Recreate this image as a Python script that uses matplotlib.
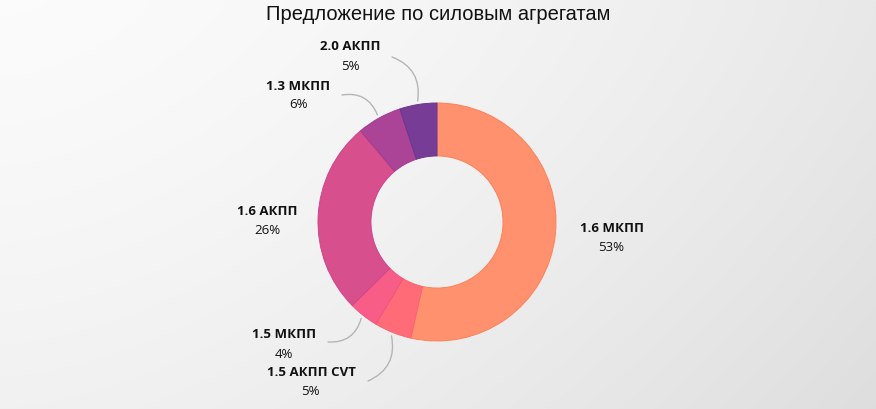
import numpy as np
import matplotlib.pyplot as plt

# data
labels = ["1.6 МКПП", "1.5 АКПП CVT", "1.5 МКПП", "1.6 АКПП", "1.3 МКПП", "2.0 АКПП"]
shares = [53, 5, 4, 26, 6, 5]
colors = ["#ff916e", "#ff6c78", "#f85d88", "#d84f8e", "#ab4496", "#773d96"]
edges = ["#ff8058", "#fb6270", "#f25280", "#d0458a", "#a03d90", "#6a358e"]

# label layout in pixel coords of the picture (name centre, percent centre)
name_px = [(612, 229), (311, 373), (284, 335), (267, 212), (298, 87), (350, 47)]
pct_px = [(611, 248), (310, 392), (284, 355), (267, 231), (299, 104), (350, 66)]
# leader line ends near labels (None = no leader)
lead_px = [None, (368, 382), (328, 343), None, (342, 96), (392, 58)]
lead_rad = [0, 0.4, 0.4, 0, -0.4, -0.4]

W, H = 876, 410
cx, cy, R = 437, 223, 119


def to_data(p):
    return ((p[0] - cx) / R, (cy - p[1]) / R)


fig = plt.figure(figsize=(W / 100, H / 100), dpi=100)

# light grey background, whiter at the top left
bg = fig.add_axes([0, 0, 1, 1])
xx, yy = np.meshgrid(np.linspace(0, 1, W), np.linspace(0, 1, H))
light = 0.985 - 0.075 * xx ** 1.6 - 0.04 * yy ** 1.3
bg.imshow(np.dstack([light] * 3), aspect="auto", extent=(0, 1, 0, 1), origin="upper")
bg.axis("off")

ax = fig.add_axes([0, 0, 1, 1])
ax.patch.set_alpha(0)

wedges, _ = ax.pie(shares, colors=colors, startangle=90, counterclock=False,
                   radius=1, wedgeprops=dict(width=0.445, linewidth=0.7))
for w, e in zip(wedges, edges):
    w.set_edgecolor(e)

ax.set_xlim(-cx / R, (W - cx) / R)
ax.set_ylim((cy - H) / R, cy / R)
ax.set_aspect("equal")
ax.axis("off")

for i, w in enumerate(wedges):
    mid = np.deg2rad((w.theta1 + w.theta2) / 2)
    nx, ny = to_data(name_px[i])
    px, py = to_data(pct_px[i])
    ax.text(nx, ny, labels[i], ha="center", va="center", fontsize=9.5,
            fontweight="bold", family="Open Sans", color="#111111")
    ax.text(px, py, f"{shares[i]}%", ha="center", va="center", fontsize=9.5,
            family="Open Sans", color="#111111")
    if lead_px[i] is not None:
        tip = (1.03 * np.cos(mid), 1.03 * np.sin(mid))
        ax.annotate("", xy=tip, xytext=to_data(lead_px[i]),
                    arrowprops=dict(arrowstyle="-", color="#b5b5b5", lw=1,
                                    shrinkA=0, shrinkB=0,
                                    connectionstyle=f"arc3,rad={lead_rad[i]}"))

fig.text(0.5, 1 - 15 / H, "Предложение по силовым агрегатам", ha="center", va="center",
         fontsize=14.5, family="Liberation Sans", color="#111111")

fig.savefig("out.png", dpi=100)
